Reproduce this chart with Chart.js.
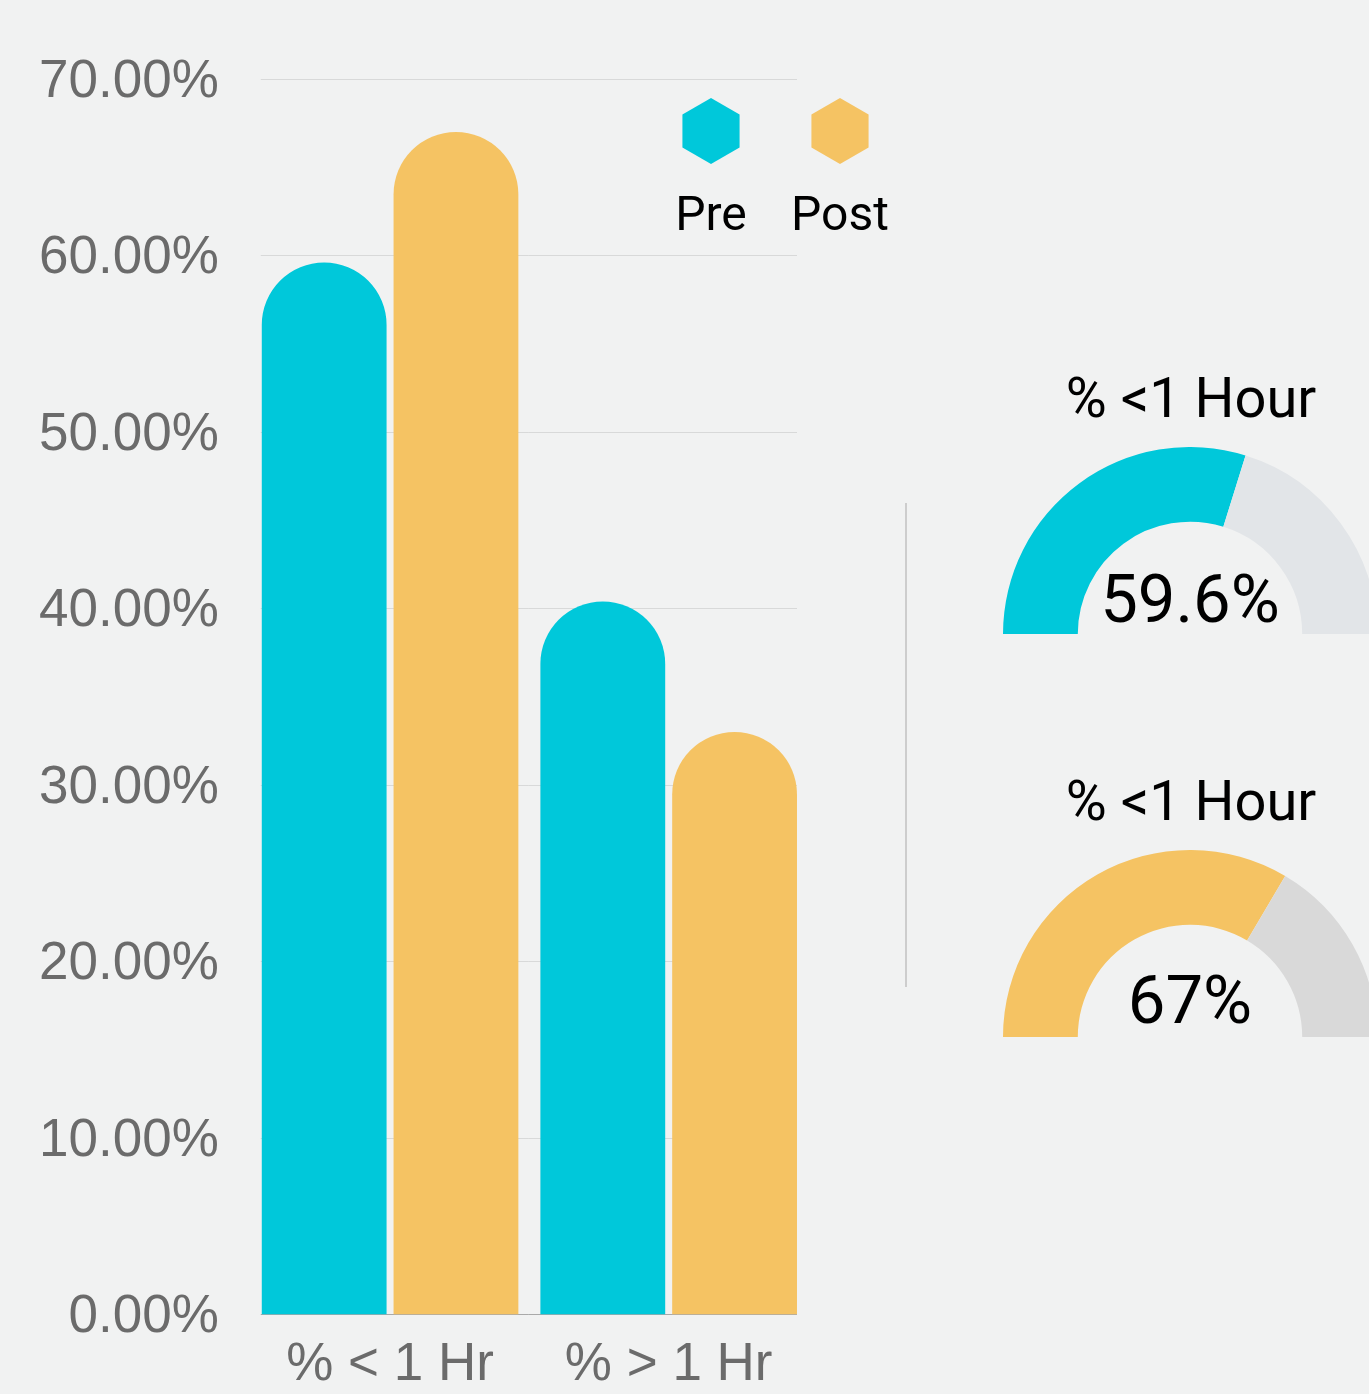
<!DOCTYPE html>
<html>
<head>
<meta charset="utf-8">
<script src="https://cdn.jsdelivr.net/npm/chart.js@4.4.1/dist/chart.umd.min.js"></script>
<style>
  html, body { margin: 0; padding: 0; background: #f1f2f2; overflow: hidden; }
  body { width: 1369px; height: 1394px; position: relative; }
  .abs { position: absolute; }
  #barChart { left: 0; top: 0; }
  .gauge { width: 374px; height: 187px; }
  .gtitle, .gvalue { font-family: Roboto, sans-serif; color: #000; text-align: center; width: 400px; line-height: 1; }
  .gtitle { font-size: 56px; }
  .gvalue { font-size: 67px; }
  #divider { left: 905px; top: 503px; width: 2px; height: 484px; background: #cdcdcd; }
</style>
</head>
<body>
<canvas id="barChart" class="abs" width="920" height="1416"></canvas>
<div id="divider" class="abs"></div>

<div class="abs gtitle" id="title0" style="left:991px; top:370px;"></div>
<div class="abs gauge" style="left:1003px; top:447px;"><canvas id="gauge0"></canvas></div>
<div class="abs gvalue" id="value0" style="left:990px; top:566px;"></div>

<div class="abs gtitle" id="title1" style="left:991px; top:773px;"></div>
<div class="abs gauge" style="left:1003px; top:850px;"><canvas id="gauge1"></canvas></div>
<div class="abs gvalue" id="value1" style="left:990px; top:967px;"></div>

<script>
// chart data
const categories = ['% < 1 Hr', '% > 1 Hr'];
const seriesLabels = ['Pre', 'Post'];
const preValues = [59.6, 40.4];
const postValues = [67.0, 33.0];
const yTickMin = 0;
const yTickMax = 70;
const yTickStep = 10;

const gaugeTitles = ['% <1 Hour', '% <1 Hour'];
const gaugeValues = [59.6, 67];
const gaugeLabels = ['59.6%', '67%'];

const TEAL = '#00c8da';
const GOLD = '#f5c363';
const gaugeColors = [TEAL, GOLD];
const gaugeRest = ['#e2e5e8', '#d9d9d9'];

// grid lines only under the bars, plus the base line
const barGrid = {
  id: 'barGrid',
  beforeDatasetsDraw(chart) {
    const { ctx, scales: { y } } = chart;
    const first = chart.getDatasetMeta(0).data[0];
    const lastMeta = chart.getDatasetMeta(chart.data.datasets.length - 1);
    const last = lastMeta.data[lastMeta.data.length - 1];
    const left = first.x - first.width / 2 - 1;
    const right = last.x + last.width / 2;
    ctx.save();
    ctx.lineWidth = 1;
    y.ticks.forEach(t => {
      const py = Math.round(y.getPixelForValue(t.value)) + 0.5;
      ctx.strokeStyle = t.value === 0 ? '#a9a9a9' : '#d8d9d9';
      ctx.beginPath();
      ctx.moveTo(left, py);
      ctx.lineTo(right, py);
      ctx.stroke();
    });
    ctx.restore();
  }
};

// hexagon legend with the label under each marker
const hexLegend = {
  id: 'hexLegend',
  afterDraw(chart) {
    const { ctx } = chart;
    const r = 33;
    const cy = 131;
    const xs = [711, 840];
    ctx.save();
    chart.data.datasets.forEach((ds, i) => {
      const cx = xs[i];
      ctx.fillStyle = ds.backgroundColor;
      ctx.beginPath();
      for (let k = 0; k < 6; k++) {
        const a = Math.PI / 3 * k - Math.PI / 2;
        const px = cx + r * Math.cos(a), py = cy + r * Math.sin(a);
        k === 0 ? ctx.moveTo(px, py) : ctx.lineTo(px, py);
      }
      ctx.closePath();
      ctx.fill();
      ctx.fillStyle = '#000';
      ctx.font = '48px Roboto';
      ctx.textAlign = 'center';
      ctx.textBaseline = 'alphabetic';
      ctx.fillText(ds.label, cx, 230);
    });
    ctx.restore();
  }
};

new Chart(document.getElementById('barChart'), {
  type: 'bar',
  data: {
    labels: categories,
    datasets: [
      { label: seriesLabels[0], data: preValues, backgroundColor: TEAL },
      { label: seriesLabels[1], data: postValues, backgroundColor: GOLD }
    ]
  },
  options: {
    responsive: false,
    animation: false,
    layout: { padding: { left: 7, top: 79, right: 112, bottom: 0 } },
    datasets: {
      bar: {
        categoryPercentage: 0.946,
        barPercentage: 0.947,
        borderRadius: 200,
        borderSkipped: 'start',
        borderWidth: 0
      }
    },
    scales: {
      x: {
        grid: { display: false, drawTicks: false },
        border: { display: false },
        ticks: { color: '#6b6b6b', padding: 19, font: { family: 'Liberation Sans', size: 53 } }
      },
      y: {
        min: yTickMin,
        max: yTickMax,
        grid: { display: false, drawTicks: false },
        border: { display: false },
        ticks: {
          stepSize: yTickStep,
          padding: 32,
          labelOffset: 3,
          color: '#6b6b6b',
          font: { family: 'Liberation Sans', size: 53 },
          callback: v => v.toFixed(2) + '%'
        }
      }
    },
    plugins: { legend: { display: false }, tooltip: { enabled: false } }
  },
  plugins: [barGrid, hexLegend]
});

gaugeValues.forEach((v, i) => {
  document.getElementById('title' + i).textContent = gaugeTitles[i];
  document.getElementById('value' + i).textContent = gaugeLabels[i];
  new Chart(document.getElementById('gauge' + i), {
    type: 'doughnut',
    data: {
      labels: ['value', 'rest'],
      datasets: [{
        data: [v, 100 - v],
        backgroundColor: [gaugeColors[i], gaugeRest[i]],
        borderWidth: 0
      }]
    },
    options: {
      responsive: true,
      maintainAspectRatio: false,
      animation: false,
      rotation: -90,
      circumference: 180,
      cutout: '60%',
      plugins: { legend: { display: false }, tooltip: { enabled: false } }
    }
  });
});
</script>
</body>
</html>
